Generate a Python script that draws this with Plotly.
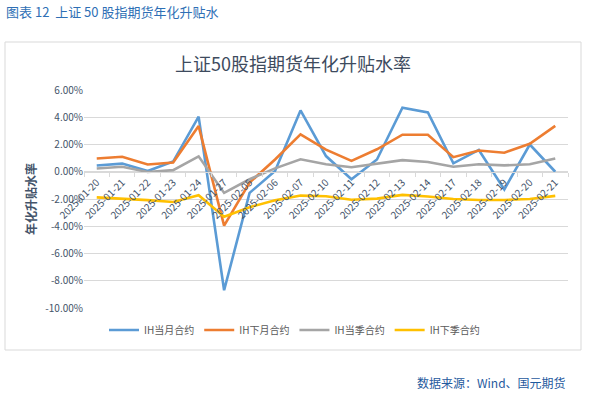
import plotly.graph_objects as go

dates = ['2025-01-20', '2025-01-21', '2025-01-22', '2025-01-23', '2025-01-24', '2025-01-27',
         '2025-02-05', '2025-02-06', '2025-02-07', '2025-02-10', '2025-02-11', '2025-02-12',
         '2025-02-13', '2025-02-14', '2025-02-17', '2025-02-18', '2025-02-19', '2025-02-20',
         '2025-02-21']
ih_cur_month = [0.46, 0.60, 0.05, 0.75, 4.05, -8.70, -1.55, 0.05, 4.50, 1.15, -0.55, 0.90,
                4.70, 4.35, 0.62, 1.60, -1.30, 2.00, 0.00]
ih_next_month = [0.97, 1.10, 0.53, 0.68, 3.35, -3.95, -0.80, 0.90, 2.75, 1.62, 0.80, 1.65,
                 2.72, 2.72, 1.07, 1.56, 1.40, 2.05, 3.37]
ih_cur_quarter = [0.24, 0.37, -0.02, 0.12, 1.13, -1.55, -0.55, 0.25, 0.92, 0.55, 0.33, 0.60,
                  0.85, 0.72, 0.37, 0.55, 0.47, 0.55, 0.97]
ih_next_quarter = [-1.88, -1.97, -2.08, -2.22, -1.72, -3.30, -2.60, -2.10, -1.75, -1.80, -2.05,
                   -1.97, -1.70, -1.82, -2.00, -2.07, -2.07, -2.00, -1.77]

series_names = ['IH当月合约', 'IH下月合约', 'IH当季合约', 'IH下季合约']
series_colors = ['#5b9bd5', '#ed7d31', '#a5a5a5', '#ffc000']
y_ticks = [6, 4, 2, 0, -2, -4, -6, -8, -10]
y_tick_text = ['6.00%', '4.00%', '2.00%', '0.00%', '-2.00%', '-4.00%', '-6.00%', '-8.00%', '-10.00%']

W, H = 597, 395
L, R, T, B = 84, 568, 90, 308


def px(x):
    return (x - L) / (R - L)


def py(y):
    return (B - y) / (B - T)


fig = go.Figure()
for name, vals, col in zip(series_names,
                           [ih_cur_month, ih_next_month, ih_cur_quarter, ih_next_quarter],
                           series_colors):
    fig.add_trace(go.Scatter(x=dates, y=vals, mode='lines', name=name,
                             line=dict(color=col, width=2.6)))

txt = '#44546a'
cjk = 'Noto Sans CJK SC, Liberation Sans, sans-serif'

fig.update_layout(
    width=W, height=H,
    margin=dict(l=L, r=W - R, t=T, b=H - B, autoexpand=False),
    paper_bgcolor='white', plot_bgcolor='white',
    font=dict(family=cjk, color=txt, size=10),
    showlegend=True,
    legend=dict(orientation='h', x=px(104), xanchor='left', y=py(330), yanchor='middle',
                font=dict(size=10, color='#595959', family=cjk),
                itemwidth=30, tracegroupgap=0,
                bgcolor='rgba(0,0,0,0)'),
    xaxis=dict(type='category', range=[-0.5, len(dates) - 0.5],
               anchor='free', position=(0 - (-10)) / 16,
               showgrid=False, showline=True, linecolor='#d9d9d9', linewidth=1,
               ticks='outside', ticklen=4, tickcolor='#d9d9d9', tickson='boundaries',
               tickangle=-45, tickfont=dict(size=10, color=txt, family=cjk),
               zeroline=False),
    yaxis=dict(range=[-10, 6], domain=[0, 1], tickvals=y_ticks, ticktext=y_tick_text,
               showgrid=True, gridcolor='#d9d9d9', gridwidth=1, zeroline=False,
               showline=False, ticks='', tickfont=dict(size=10, color=txt, family=cjk)),
    shapes=[dict(type='rect', xref='paper', yref='paper',
                 x0=px(5), x1=px(581), y0=py(350), y1=py(42),
                 line=dict(color='#d9d9d9', width=1), fillcolor='rgba(0,0,0,0)', layer='below')],
    annotations=[
        dict(text='图表 12  上证 50 股指期货年化升贴水', xref='paper', yref='paper',
             x=px(4), y=py(12), xanchor='left', yanchor='middle', showarrow=False,
             font=dict(size=13, color='#2e6fb5', family=cjk)),
        dict(text='上证50股指期货年化升贴水率', xref='paper', yref='paper',
             x=px(293), y=py(63), xanchor='center', yanchor='middle', showarrow=False,
             font=dict(size=18, color='#3e4b5e', family=cjk)),
        dict(text='<b>年化升贴水率</b>', xref='paper', yref='paper', textangle=-90,
             x=px(30), y=py(199), xanchor='center', yanchor='middle', showarrow=False,
             font=dict(size=12, color='#44546a', family=cjk)),
        dict(text='数据来源：Wind、国元期货', xref='paper', yref='paper',
             x=px(568), y=py(382), xanchor='right', yanchor='middle', showarrow=False,
             font=dict(size=12, color='#1f5a9e', family=cjk)),
    ],
)

fig.write_html('out.html', config={'displayModeBar': False})

with open('out.html', encoding='utf-8') as f:
    html = f.read()
html = html.replace('<head>', '<head><style>html,body{margin:0;padding:0;overflow:hidden;}</style>', 1)
with open('out.html', 'w', encoding='utf-8') as f:
    f.write(html)
